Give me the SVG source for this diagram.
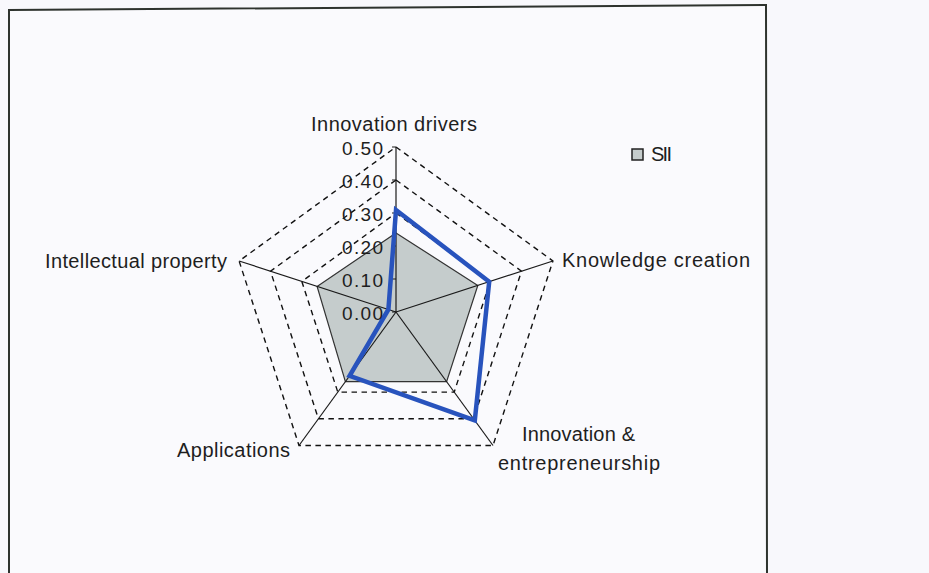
<svg xmlns="http://www.w3.org/2000/svg" width="929" height="573" viewBox="0 0 929 573">
<style>
.lbl{font-family:"Liberation Sans",Arial,sans-serif;font-size:20px;fill:#1e1e1e}
.val{font-family:"Liberation Sans",Arial,sans-serif;font-size:19px;fill:#1e1e1e}
.grid{fill:none;stroke:#111;stroke-width:1.4;stroke-dasharray:5.5 4.5}
.axis{stroke:#1a1a1a;stroke-width:1.2}
</style>
<rect x="0" y="0" width="929" height="573" fill="#f8f8fc"/>
<g id="frame">
<path d="M9,573 L9,10 L766,5 L767,573" fill="#fafafd" stroke="#2e332e" stroke-width="2"/>
</g>
<g id="grid">
<polygon class="grid" points="396,279 427.4,301.8 415.4,338.7 376.6,338.7 364.6,301.8"/>
<polygon class="grid" points="396,246 458.8,291.6 434.8,365.4 357.2,365.4 333.2,291.6"/>
<polygon class="grid" points="396,213 490.2,281.4 454.2,392.1 337.8,392.1 301.8,281.4"/>
<polygon class="grid" points="396,180 521.5,271.2 473.6,418.8 318.4,418.8 270.5,271.2"/>
<polygon class="grid" points="396,147 552.9,261 493,445.5 299,445.5 239.1,261"/>
</g>
<g id="series-sii">
<polygon points="396,233 477.8,285.4 446.6,381.6 345.4,381.6 317.1,286.4" fill="#c5cccc" stroke="#333" stroke-width="1.2"/>
</g>
<g id="axes">
<line class="axis" x1="396" y1="312" x2="396" y2="147"/>
<line class="axis" x1="396" y1="312" x2="552.9" y2="261"/>
<line class="axis" x1="396" y1="312" x2="493" y2="445.5"/>
<line class="axis" x1="396" y1="312" x2="299" y2="445.5"/>
<line class="axis" x1="396" y1="312" x2="239.1" y2="261"/>
<path d="M392,147H396M392,180H396M392,213H396M392,246H396M392,279H396M392,312H396" stroke="#1a1a1a" stroke-width="1.2"/>
</g>
<g id="series-blue">
<polygon points="396,210 489.2,281.7 474.8,420.4 349.6,375.9 388.4,309.5" fill="none" stroke="#2853bd" stroke-width="4.5" stroke-linejoin="miter"/>
</g>
<g id="value-labels">
<text class="val" x="342" y="155" textLength="41" lengthAdjust="spacing">0.50</text>
<text class="val" x="342" y="188" textLength="41" lengthAdjust="spacing">0.40</text>
<text class="val" x="342" y="221" textLength="41" lengthAdjust="spacing">0.30</text>
<text class="val" x="342" y="254" textLength="41" lengthAdjust="spacing">0.20</text>
<text class="val" x="342" y="287" textLength="41" lengthAdjust="spacing">0.10</text>
<text class="val" x="342" y="320" textLength="41" lengthAdjust="spacing">0.00</text>
</g>
<g id="node-innovation-drivers">
<text class="lbl" x="311" y="131" textLength="166" lengthAdjust="spacing">Innovation drivers</text>
</g>
<g id="node-knowledge-creation">
<text class="lbl" x="562" y="267" textLength="188" lengthAdjust="spacing">Knowledge creation</text>
</g>
<g id="node-innovation-entrepreneurship">
<text class="lbl" x="522" y="441" textLength="113" lengthAdjust="spacing">Innovation &amp;</text>
<text class="lbl" x="498" y="470" textLength="162" lengthAdjust="spacing">entrepreneurship</text>
</g>
<g id="node-applications">
<text class="lbl" x="177" y="457" textLength="113" lengthAdjust="spacing">Applications</text>
</g>
<g id="node-intellectual-property">
<text class="lbl" x="45" y="268" textLength="182" lengthAdjust="spacing">Intellectual property</text>
</g>
<g id="legend">
<rect x="632" y="149" width="11" height="11" fill="#c5cccc" stroke="#222" stroke-width="1.5"/>
<text class="lbl" x="651" y="161" textLength="21" lengthAdjust="spacing">SII</text>
</g>
</svg>
